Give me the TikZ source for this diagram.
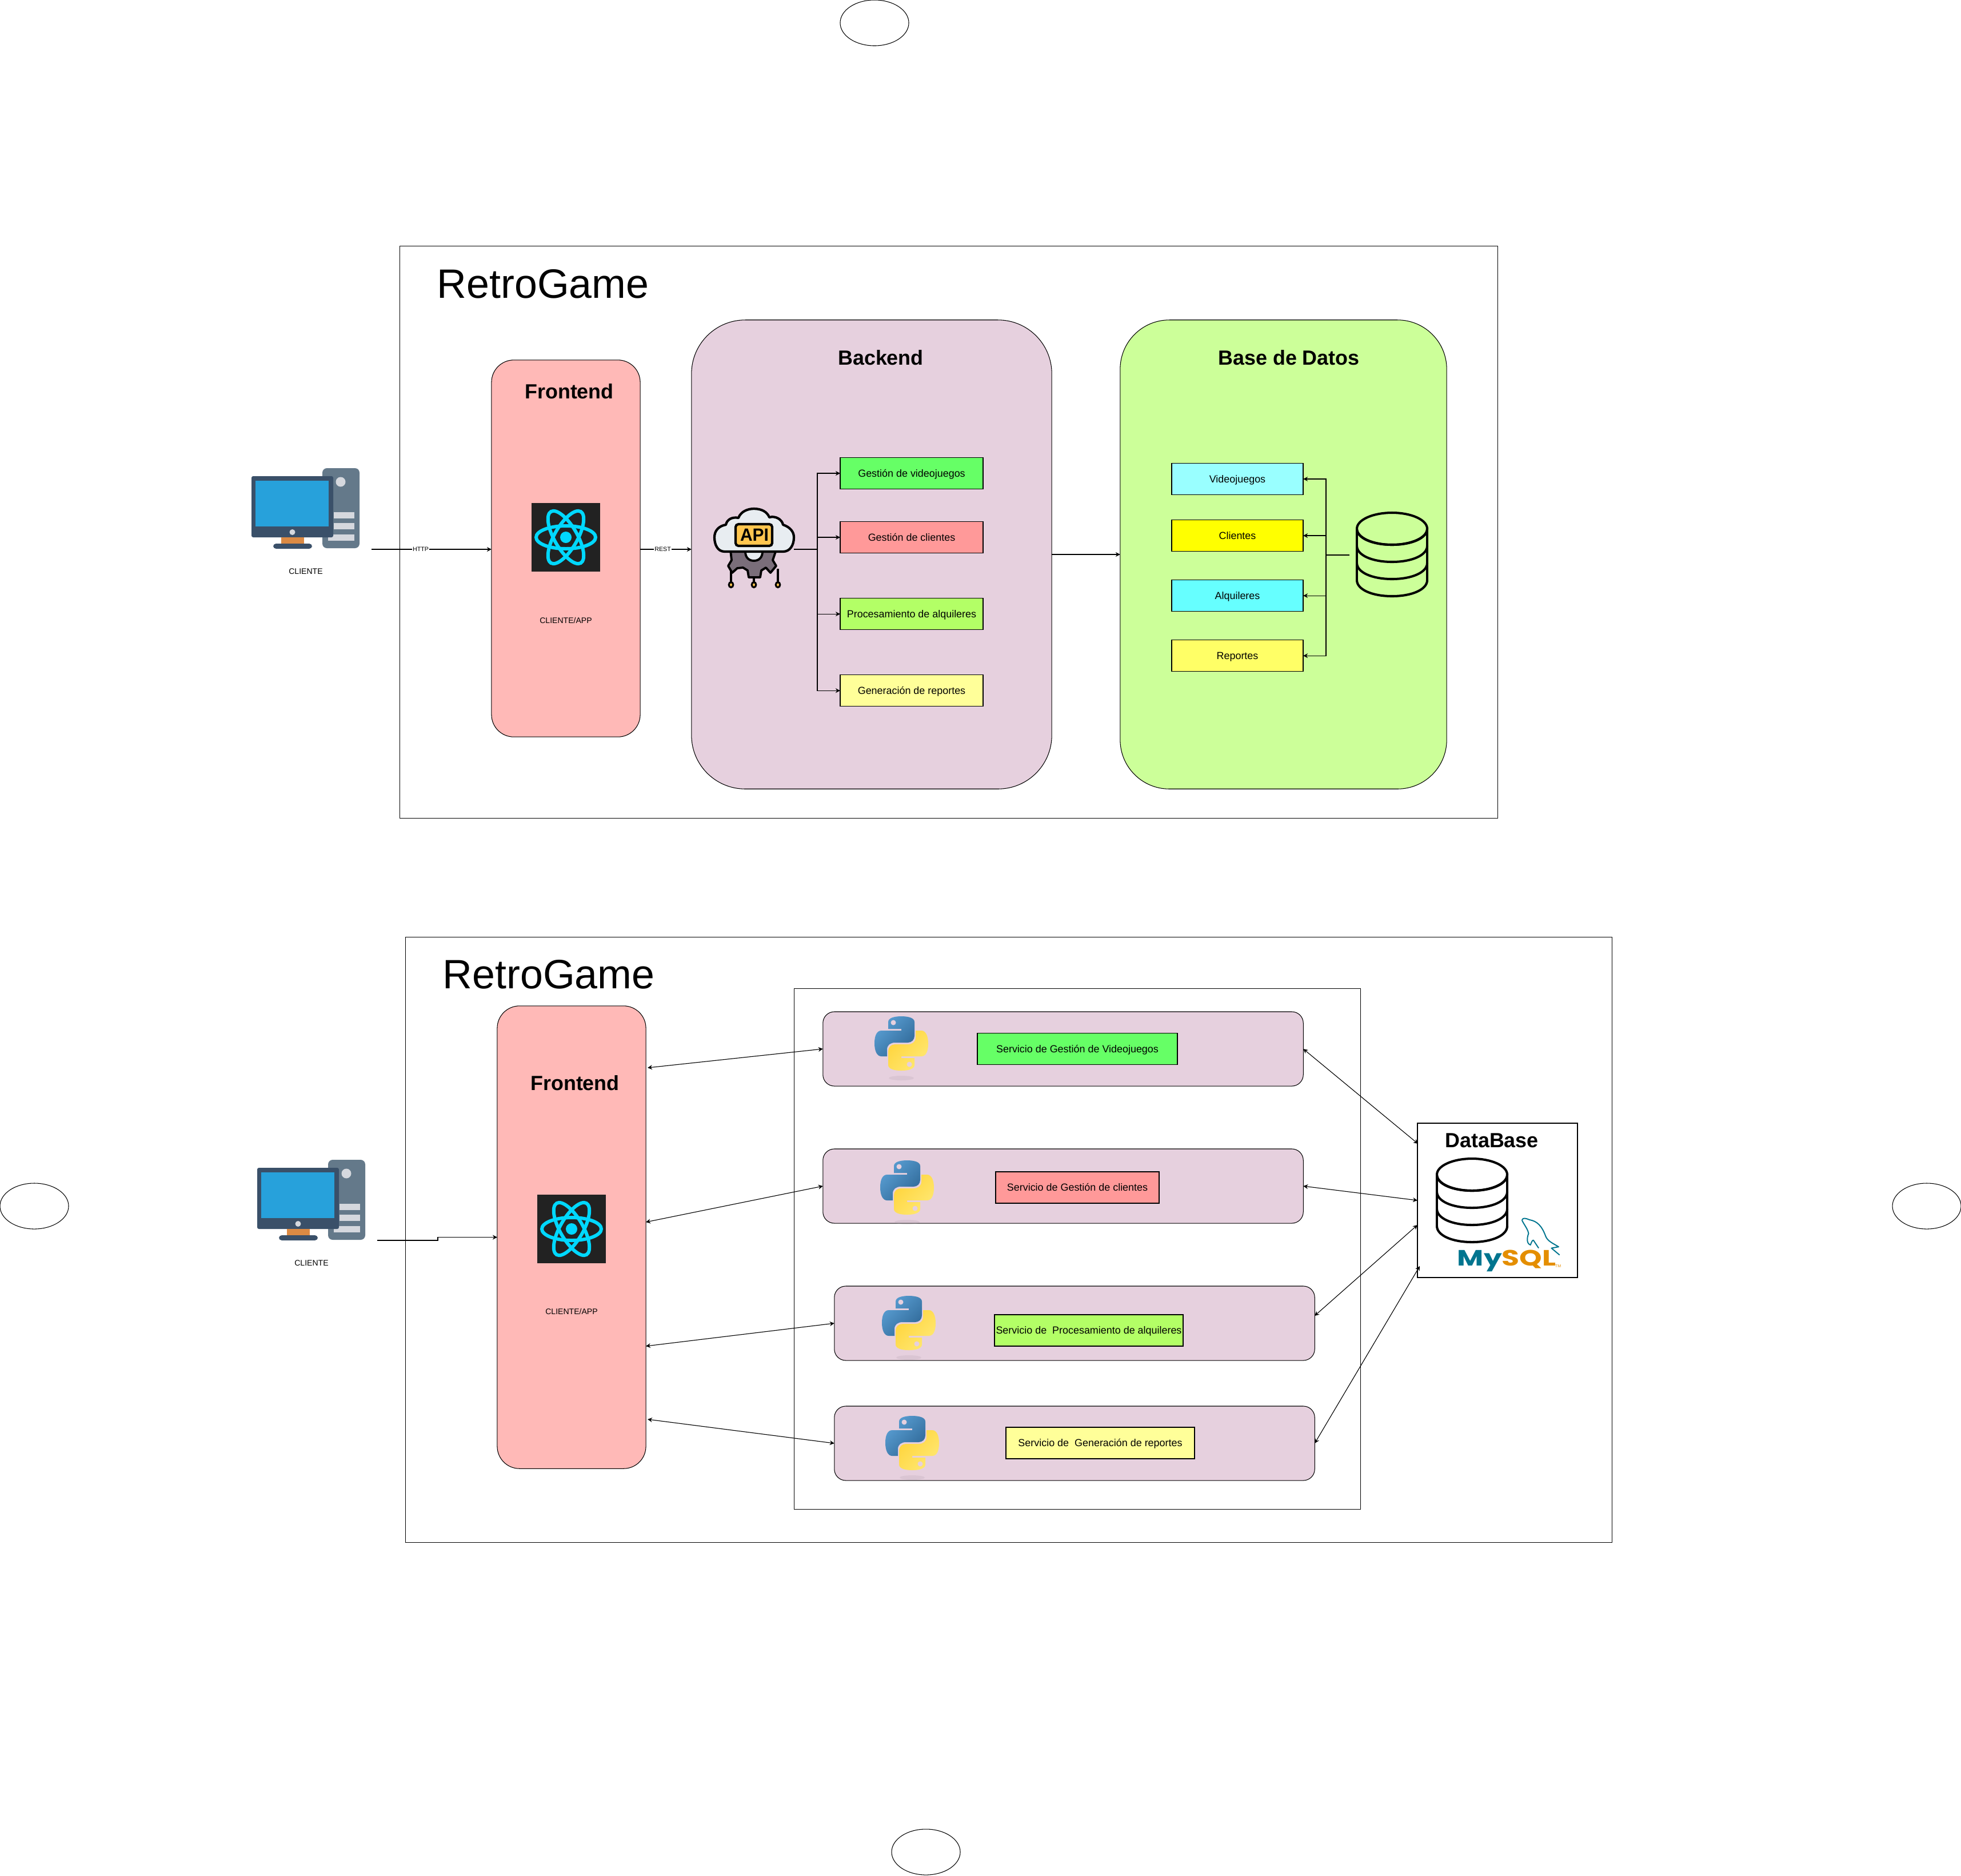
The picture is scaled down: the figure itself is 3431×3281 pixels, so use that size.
\documentclass[tikz,border=0pt]{standalone}
\usepackage{xcolor}
\usepackage{fontspec}
\setmainfont{Liberation Sans}
\newfontfamily\logofont{Poppins}
\usetikzlibrary{
    arrows.meta,
    positioning,
    shapes.geometric
}
\definecolor{panelPink}{HTML}{FFB9B7}
\definecolor{panelMauve}{HTML}{E6D0DE}
\definecolor{panelLime}{HTML}{CCFF99}
\definecolor{fillGreen}{HTML}{66FF66}
\definecolor{fillRed}{HTML}{FF9999}
\definecolor{fillLime}{HTML}{B3FF66}
\definecolor{fillCream}{HTML}{FFFF99}
\definecolor{fillAqua}{HTML}{99FFFF}
\definecolor{fillCyan}{HTML}{66FFFF}
\definecolor{fillSun}{HTML}{FFFF66}
\definecolor{fillYellow}{RGB}{255,255,0}
\definecolor{pyBlueA}{HTML}{5A9FD4}
\definecolor{pyBlueB}{HTML}{306998}
\definecolor{pyGoldA}{HTML}{FFE873}
\definecolor{pyGoldB}{HTML}{FFD43B}
\definecolor{mysqlBlue}{HTML}{00758F}
\definecolor{mysqlGold}{HTML}{E48E00}
\definecolor{towerGrey}{HTML}{64798A}
\definecolor{bayGrey}{HTML}{D5D8DE}
\definecolor{screenNavy}{HTML}{3A5069}
\definecolor{screenBlue}{HTML}{27A1DB}
\definecolor{standOrange}{HTML}{DB8A44}
\definecolor{reactBack}{HTML}{222222}
\definecolor{reactCyan}{HTML}{00D8FF}
\definecolor{gearGrey}{HTML}{7A6E7A}
\definecolor{cloudGrey}{HTML}{E8EDF1}
\definecolor{apiGold}{HTML}{FFC64F}
\tikzset{
pythonlogo/.pic={
\fill[panelMauve!75!black, opacity=.2] (47,108) ellipse [x radius=22, y radius=4];
\path[top color=pyBlueA, bottom color=pyBlueB, shading angle=45]
(47,25) -- (12,25) .. controls (4,25) and (0,34) .. (0,47)
.. controls (0,60) and (4,70) .. (12,70) -- (22,70) -- (22,58)
.. controls (22,50) and (28,46) .. (36,46) -- (58,46)
.. controls (65,46) and (70,41) .. (70,34) -- (70,10)
.. controls (70,3) and (60,0) .. (47,0)
.. controls (34,0) and (24,3) .. (24,10) -- (24,22) -- (47,22) -- cycle;
\path[rotate around={180:(47,47.5)}, top color=pyGoldB, bottom color=pyGoldA, shading angle=45]
(47,25) -- (12,25) .. controls (4,25) and (0,34) .. (0,47)
.. controls (0,60) and (4,70) .. (12,70) -- (22,70) -- (22,58)
.. controls (22,50) and (28,46) .. (36,46) -- (58,46)
.. controls (65,46) and (70,41) .. (70,34) -- (70,10)
.. controls (70,3) and (60,0) .. (47,0)
.. controls (34,0) and (24,3) .. (24,10) -- (24,22) -- (47,22) -- cycle;
\fill[panelMauve] (33,11) ellipse [x radius=4.5, y radius=4.5];
\fill[panelMauve] (61,84) ellipse [x radius=4.5, y radius=4.5];
},
pcicon/.pic={
\fill[rounded corners=.08cm, fill=towerGrey] (124,0) rectangle (189,140);
\fill[fill=bayGrey] (156,24) ellipse [x radius=8.5, y radius=8.5];
\fill[bayGrey] (144,77) rectangle (180,88);
\fill[bayGrey] (144,96) rectangle (180,107);
\fill[bayGrey] (134,116) rectangle (180,127);
\fill[rounded corners=.03cm, screenNavy] (0,14) rectangle (143,121);
\fill[screenBlue] (7,22) rectangle (135,102);
\fill[bayGrey] (71.5,112) ellipse [x radius=5, y radius=5];
\fill[standOrange] (52,121) rectangle (92,132);
\fill[screenNavy, rounded corners=.05cm] (38,141) -- (38,132) -- (106,132) -- (106,141) -- cycle;
},
reacticon/.pic={
\fill[reactBack] (0,0) rectangle (120,120);
\foreach \tilt in {0,60,120}{
\draw[reactCyan, line width=1.7pt, rotate around={\tilt:(60,60)}] (60,60) ellipse [x radius=52, y radius=20];
}
\fill[reactCyan] (60,60) ellipse [x radius=10, y radius=10];
},
dbicon/.pic={
\draw[line width=1.15pt, line join=round] (63.5,30) ellipse [x radius=61.5, y radius=28];
\draw[line width=1.15pt] (2,30) -- (2,120) (125,30) -- (125,120);
\foreach \drop in {0,30,60,90}{
\draw[line width=1.15pt] (2,30+\drop) .. controls (2,46+\drop) and (28,58+\drop) .. (63.5,58+\drop)
.. controls (99,58+\drop) and (125,46+\drop) .. (125,30+\drop);
}
}
}
\begin{document}
\begin{tikzpicture}[
x=.01cm,
y=-.01cm,
line width=.38pt,
frame/.style={
draw,
inner sep=0pt,
outer sep=0pt
},
panel/.style={
draw,
inner sep=0pt,
outer sep=0pt,
line width=.3pt
},
funcbox/.style={
draw,
inner sep=0pt,
outer sep=0pt,
minimum width=2.5cm,
minimum height=.55cm,
text height=4.2pt,
text depth=.6pt,
font=\fontsize{5.1}{6.2}\selectfont
},
tablebox/.style={
funcbox,
minimum width=2.3cm
},
blob/.style={
draw,
ellipse,
inner sep=0pt,
minimum width=1.2cm,
minimum height=.8cm,
line width=.3pt
},
heading/.style={
font=\fontsize{10.2}{12}\selectfont\bfseries,
inner sep=0pt
},
brand/.style={
font=\fontsize{20.4}{24}\selectfont,
inner sep=0pt
},
tinytext/.style={
font=\fontsize{4}{5}\selectfont,
inner sep=0pt
},
arrowline/.style={
-{Stealth[length=.8mm,width=.8mm]},
line width=.35pt
},
bothline/.style={
{Stealth[length=.8mm,width=.8mm]}-{Stealth[length=.8mm,width=.8mm]},
line width=.32pt
},
wirelabel/.style={
font=\fontsize{3.05}{4}\selectfont,
fill=white,
inner sep=.3pt
}
]
\useasboundingbox (0,0) rectangle (3431,3281);

\node[blob] (blobTop) at (1530,40) {};
\node[blob] (blobLeft) at (60,2110) {};
\node[blob] (blobRight) at (3371,2110) {};
\node[blob] (blobBottom) at (1620,3240) {};

\node[frame, minimum width=19.2cm, minimum height=10cm] (frameTop) at (1660,931) {};
\node[brand] (brandTop) at (950,497) {RetroGame};

\node[panel, fill=panelPink, rounded corners=.39cm, minimum width=2.6cm, minimum height=6.59cm] (front) at (990,959.5) {};
\node[panel, fill=panelMauve, rounded corners=.94cm, minimum width=6.3cm, minimum height=8.2cm] (back) at (1525,970) {};
\node[panel, fill=panelLime, rounded corners=.86cm, minimum width=5.71cm, minimum height=8.2cm] (datos) at (2245.5,970) {};

\node[heading] (frontTitle) at (996,685) {Frontend};
\node[heading] (backTitle) at (1541,626) {Backend};
\node[heading] (datosTitle) at (2255,626) {Base de Datos};

\pic at (440,819) {pcicon};
\node[tinytext] (clientTop) at (535,1000) {CLIENTE};
\pic at (930,880) {reacticon};
\node[tinytext] (appTop) at (990,1085) {CLIENTE/APP};

\begin{scope}[shift={(1250,890)}]
\foreach \wirex in {29,69,111}{
\draw[line width=.9pt] (\wirex,105) -- (\wirex,128);
\draw[line width=.9pt, fill=apiGold] (\wirex,133) ellipse [x radius=3.8, y radius=4.5];
}
\draw[line width=1.1pt, fill=gearGrey, line join=round] (28,72) -- (30,90) -- (24,100) -- (31,112) -- (40,104)
-- (50,103) -- (58,108) -- (60,120) -- (80,120) -- (82,108) -- (90,103) -- (98,112) -- (108,100) -- (102,90) -- (108,72) -- cycle;
\draw[line width=1.1pt, fill=cloudGrey] (54,75) .. controls (54,85) and (60,91) .. (69,91) .. controls (78,91) and (84,85) .. (84,75) -- cycle;
\draw[line width=1.2pt, fill=cloudGrey, line join=round] (18,75) .. controls (5,75) and (0,62) .. (0,50)
.. controls (0,38) and (8,30) .. (20,28) .. controls (22,18) and (32,14) .. (42,16)
.. controls (46,5) and (58,0) .. (69,0) .. controls (82,0) and (92,5) .. (96,15)
.. controls (106,12) and (118,18) .. (120,28) .. controls (132,32) and (139,40) .. (139,50)
.. controls (139,64) and (132,75) .. (120,75) -- cycle;
\draw[line width=1.2pt, fill=apiGold, rounded corners=.05cm] (37,27) rectangle (101,65);
\node[font=\fontsize{8.8}{10}\selectfont\bfseries, inner sep=0pt, xscale=.97, transform shape] (apiText) at (70,46) {API};
\end{scope}

\node[funcbox, fill=fillGreen] (gVideo) at (1595,828) {Gestión de videojuegos};
\node[funcbox, fill=fillRed, below=.57cm of gVideo] (gClient) {Gestión de clientes};
\node[funcbox, fill=fillLime, below=.79cm of gClient] (gRent) {Procesamiento de alquileres};
\node[funcbox, fill=fillCream, below=.79cm of gRent] (gReport) {Generación de reportes};

\node[tablebox, fill=fillAqua] (tVideo) at (2165,838) {Videojuegos};
\node[tablebox, fill=fillYellow, below=.44cm of tVideo] (tClient) {Clientes};
\node[tablebox, fill=fillCyan, below=.5cm of tClient] (tRent) {Alquileres};
\node[tablebox, fill=fillSun, below=.5cm of tRent] (tReport) {Reportes};

\pic at (2372,895) {dbicon};

\coordinate (pcOut) at (650,961);
\coordinate (apiOut) at (1389,961);
\coordinate (dbOut) at (2361,971);

\draw[arrowline] (pcOut) -- (front.west |- pcOut)
node[wirelabel, pos=.41] (httpLabel) {HTTP};
\draw[arrowline] (front.east |- pcOut) -- (back.west |- pcOut)
node[wirelabel, pos=.44] (restLabel) {REST};
\draw[arrowline] (back.east) -- (datos.west);
\draw[arrowline] (apiOut) -- ++(41,0) |- (gVideo);
\draw[arrowline] (apiOut) -- ++(41,0) |- (gClient);
\draw[arrowline] (apiOut) -- ++(41,0) |- (gRent);
\draw[arrowline] (apiOut) -- ++(41,0) |- (gReport);
\draw[arrowline] (dbOut) -- ++(-41,0) |- (tVideo);
\draw[arrowline] (dbOut) -- ++(-41,0) |- (tClient);
\draw[arrowline] (dbOut) -- ++(-41,0) |- (tRent);
\draw[arrowline] (dbOut) -- ++(-41,0) |- (tReport);

\node[frame, minimum width=21.1cm, minimum height=10.58cm] (frameLow) at (1765,2169) {};
\node[brand] (brandLow) at (960,1705) {RetroGame};
\node[frame, minimum width=9.9cm, minimum height=9.1cm] (frameSvc) at (1885,2185) {};

\node[panel, fill=panelPink, rounded corners=.39cm, minimum width=2.6cm, minimum height=8.09cm] (frontLow) at (1000,2164.5) {};
\node[heading] (frontLowTitle) at (1006,1895) {Frontend};
\pic at (450,2029) {pcicon};
\node[tinytext] (clientLow) at (545,2210) {CLIENTE};
\pic at (940,2090) {reacticon};
\node[tinytext] (appLow) at (1000,2294) {CLIENTE/APP};

\node[panel, fill=panelMauve, rounded corners=.2cm, minimum width=8.4cm, minimum height=1.3cm] (svcVideo) at (1860,1835) {};
\node[panel, fill=panelMauve, rounded corners=.2cm, minimum width=8.4cm, minimum height=1.3cm] (svcClient) at (1860,2075) {};
\node[panel, fill=panelMauve, rounded corners=.2cm, minimum width=8.4cm, minimum height=1.3cm] (svcRent) at (1880,2315) {};
\node[panel, fill=panelMauve, rounded corners=.2cm, minimum width=8.4cm, minimum height=1.3cm] (svcReport) at (1880,2525) {};

\pic at (1530,1778) {pythonlogo};
\pic at (1540,2030) {pythonlogo};
\pic at (1543,2267) {pythonlogo};
\pic at (1549,2477) {pythonlogo};

\node[funcbox, fill=fillGreen, minimum width=3.5cm] (bVideo) at (1885,1835) {Servicio de Gestión de Videojuegos};
\node[funcbox, fill=fillRed, minimum width=2.86cm] (bClient) at (1885,2077.5) {Servicio de Gestión de clientes};
\node[funcbox, fill=fillLime, minimum width=3.3cm] (bRent) at (1905,2327.5) {Servicio de\ \ Procesamiento de alquileres};
\node[funcbox, fill=fillCream, minimum width=3.3cm] (bReport) at (1925,2524.5) {Servicio de\ \ Generación de reportes};

\node[frame, minimum width=2.8cm, minimum height=2.7cm] (dbBox) at (2620,2100) {};
\node[heading] (dbTitle) at (2610,1995) {DataBase};
\pic at (2512,2025) {dbicon};

\begin{scope}[shift={(2300,1900)}, x=.00333cm, y=-.00333cm]
\draw[mysqlBlue, line width=.55pt, line join=round] (1090,705) .. controls (1095,690) and (1110,695) .. (1130,703)
.. controls (1170,710) and (1195,735) .. (1215,790) .. controls (1225,815) and (1250,825) .. (1283,845)
-- (1245,852) -- (1288,888);
\draw[mysqlBlue, line width=.55pt, line join=round] (1090,705) .. controls (1105,735) and (1120,750) .. (1125,775)
.. controls (1115,800) and (1115,830) .. (1135,835) .. controls (1140,820) and (1145,810) .. (1150,810) -- (1178,852);
\end{scope}
\node[font=\fontsize{11}{13}\selectfont\logofont\bfseries, inner sep=0pt, anchor=west, xscale=1.3, transform shape] (mysqlText) at (2549,2206)
{\textcolor{mysqlBlue}{My}\textcolor{mysqlGold}{SQL}};
\node[font=\fontsize{2}{3}\selectfont, text=mysqlGold, inner sep=0pt] (mysqlMark) at (2726,2215) {TM};

\coordinate (pcLowOut) at (660,2170);
\coordinate (frontA) at (1133,1868);
\coordinate (frontB) at (1130,2138);
\coordinate (frontC) at (1130,2355);
\coordinate (frontD) at (1133,2483);
\coordinate (dbA) at (2481,2001);
\coordinate (dbB) at (2480,2100);
\coordinate (dbC) at (2480,2143);
\coordinate (dbD) at (2484,2215);
\coordinate (svcRentIn) at (2300,2302);

\draw[arrowline] (pcLowOut) -- ++(106,0) |- (frontLow.west);
\draw[bothline] (frontA) -- (svcVideo.west);
\draw[bothline] (frontB) -- (svcClient.west);
\draw[bothline] (frontC) -- (svcRent.west);
\draw[bothline] (frontD) -- (svcReport.west);
\draw[bothline] (svcVideo.east) -- (dbA);
\draw[bothline] (svcClient.east) -- (dbB);
\draw[bothline] (svcRentIn) -- (dbC);
\draw[bothline] (svcReport.east) -- (dbD);

\end{tikzpicture}
\end{document}
